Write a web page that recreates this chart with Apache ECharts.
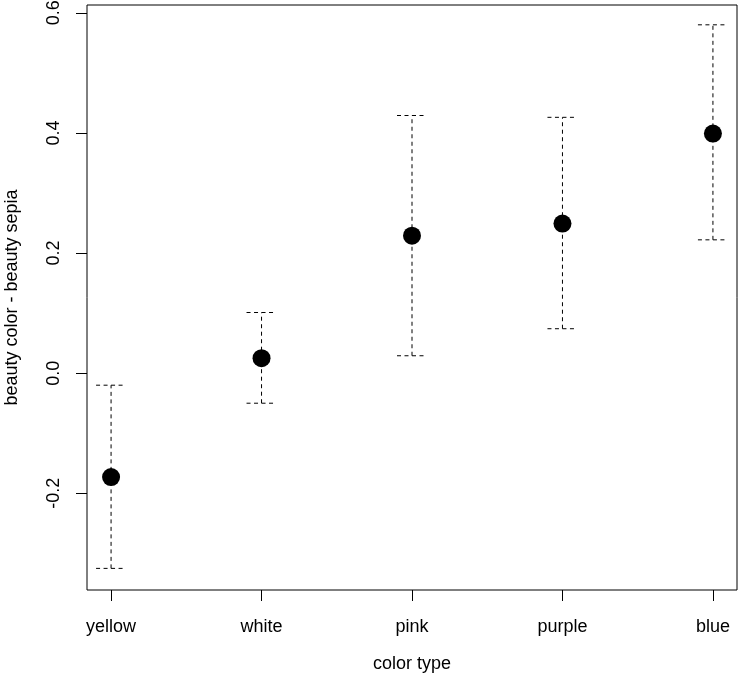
<!DOCTYPE html>
<html>
<head>
<meta charset="utf-8">
<script src="https://cdn.jsdelivr.net/npm/echarts@6/dist/echarts.min.js"></script>
<style>html,body{margin:0;padding:0;background:#fff;}#c{width:743px;height:681px;}</style>
</head>
<body>
<div id="c"></div>
<script>
var categories = ['yellow', 'white', 'pink', 'purple', 'blue'];
var means = [-0.173, 0.025, 0.229, 0.249, 0.399];
var lower = [-0.325, -0.050, 0.029, 0.074, 0.222];
var upper = [-0.020, 0.101, 0.429, 0.426, 0.580];
var yTicks = [-0.2, 0.0, 0.2, 0.4, 0.6];
var xTicks = [1, 2, 3, 4, 5];

var FONT = 'Liberation Sans, Arial, Helvetica, sans-serif';
var chart = echarts.init(document.getElementById('c'), null, {renderer: 'canvas'});

var barData = categories.map(function (c, i) { return [i + 1, lower[i], upper[i]]; });
var pointData = categories.map(function (c, i) { return [i + 1, means[i]]; });

var dash = [4, 3.5];
chart.setOption({
  animation: false,
  backgroundColor: '#fff',
  grid: {left: 87, right: 6, top: 5, bottom: 91, containLabel: false, outerBoundsMode: 'none',
    show: true, borderColor: '#000', borderWidth: 1, backgroundColor: 'transparent'},
  xAxis: {
    type: 'value', min: 0.84, max: 5.16,
    name: 'color type', nameLocation: 'middle', nameGap: 65,
    nameTextStyle: {fontFamily: FONT, fontSize: 18, color: '#000'},
    axisLine: {show: false, onZero: false},
    splitLine: {show: false},
    axisTick: {show: true, inside: false, length: 11, customValues: xTicks, lineStyle: {color: '#000', width: 1}},
    axisLabel: {customValues: xTicks, margin: 28, fontFamily: FONT, fontSize: 18, color: '#000',
      formatter: function (v) { return categories[Math.round(v) - 1] || ''; }}
  },
  yAxis: {
    type: 'value', min: -0.361, max: 0.613,
    name: 'beauty color - beauty sepia', nameLocation: 'middle', nameGap: 66,
    nameTextStyle: {fontFamily: FONT, fontSize: 18, color: '#000'},
    axisLine: {show: false, onZero: false},
    splitLine: {show: false},
    axisTick: {show: true, inside: false, length: 11, customValues: yTicks, lineStyle: {color: '#000', width: 1}},
    axisLabel: {customValues: yTicks, rotate: 90, margin: 24, fontFamily: FONT, fontSize: 18, color: '#000',
      formatter: function (v) { return v.toFixed(1); }}
  },
  series: [
    {
      type: 'custom',
      data: barData,
      encode: {x: 0, y: [1, 2]},
      renderItem: function (params, api) {
        var x = api.value(0);
        var lo = api.coord([x, api.value(1)]);
        var hi = api.coord([x, api.value(2)]);
        var hw = 15;
        var st = {stroke: '#000', lineWidth: 1, lineDash: dash, fill: null};
        return {
          type: 'group',
          children: [
            {type: 'line', shape: {x1: lo[0], y1: lo[1], x2: hi[0], y2: hi[1]}, style: st},
            {type: 'line', shape: {x1: hi[0] - hw, y1: hi[1], x2: hi[0] + hw, y2: hi[1]}, style: st},
            {type: 'line', shape: {x1: lo[0] - hw, y1: lo[1], x2: lo[0] + hw, y2: lo[1]}, style: st}
          ]
        };
      },
      z: 2
    },
    {
      type: 'scatter',
      data: pointData,
      symbol: 'circle',
      symbolSize: 18,
      itemStyle: {color: '#000', opacity: 1},
      z: 3
    }
  ]
});
</script>
</body>
</html>
